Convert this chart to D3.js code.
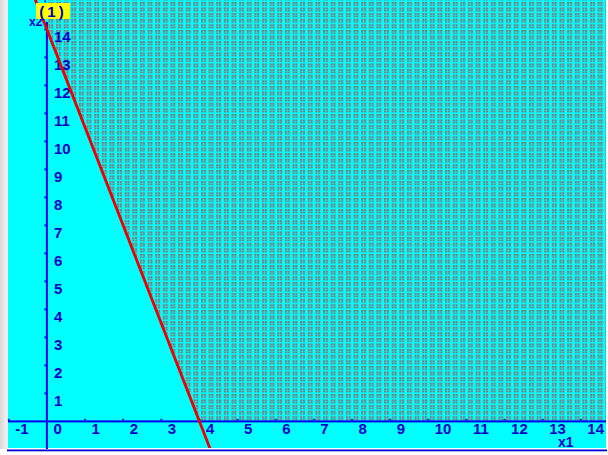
<!DOCTYPE html>
<html><head><meta charset="utf-8">
<script src="https://cdn.jsdelivr.net/npm/d3@7"></script>
<style>html,body{margin:0;padding:0;background:#fff;overflow:hidden}</style>
</head><body>
<svg id="c" width="608" height="455"></svg>
<script>
// ---- data ----
const xTicks = [-1,0,1,2,3,4,5,6,7,8,9,10,11,12,13,14];
const yTicks = [1,2,3,4,5,6,7,8,9,10,11,12,13,14,15];
const yLabels = [1,2,3,4,5,6,7,8,9,10,11,12,13,14];   // 15 is hidden behind the region label
const constraintCoef = [7, 2];   // 7*x1 + 2*x2 = 28
const constraintRhs = 28;
const xDomain = [-1.02, 14.66];
const yDomain = [-0.95, 15.05];
const regionLabel = "(1)";
const xName = "x1", yName = "x2";

const svg = d3.select("#c");
const L = 8, R = 606, T = 0, B = 448;
const x = d3.scaleLinear().domain(xDomain).range([L, R]);
const y = d3.scaleLinear().domain(yDomain).range([B, T]);

// frame
svg.append("rect").attr("x",0).attr("y",0).attr("width",608).attr("height",455).attr("fill","#fff");
const defs = svg.append("defs");
const g0 = defs.append("linearGradient").attr("id","lg");
g0.append("stop").attr("offset","0").attr("stop-color","#d8d8d8");
g0.append("stop").attr("offset","1").attr("stop-color","#f4f4f4");
svg.append("rect").attr("x",0).attr("y",0).attr("width",8).attr("height",449).attr("fill","url(#lg)");
svg.append("rect").attr("x",L).attr("y",T).attr("width",R-L).attr("height",B-T).attr("fill","#00ffff");
svg.append("rect").attr("x",7).attr("y",449.5).attr("width",600).attr("height",1.8).attr("fill","#0000dd");

// pattern
const cw = (x(1)-x(0))/5, ch = (y(0)-y(1))/5;
defs.append("clipPath").attr("id","plotclip").append("rect")
  .attr("x",L).attr("y",T).attr("width",R-L).attr("height",B-T);
const pat = defs.append("pattern").attr("id","dots").attr("patternUnits","userSpaceOnUse")
  .attr("x", x(0)+1.5).attr("y", y(0)-ch+0.5).attr("width", cw).attr("height", ch);
[[0,0],[2.8,0],[0,2.3],[2.8,2.3]].forEach(([a,b])=>{
  pat.append("rect").attr("x",a).attr("y",b).attr("width",2.2).attr("height",1.8).attr("fill","#7c7c7c");
});

const [a1,a2] = constraintCoef;
const x1At = v => (constraintRhs - a2*v)/a1;
const x2At = u => (constraintRhs - a1*u)/a2;
const ytop = yDomain[1], xr = xDomain[1];
const poly = [[x1At(0),0],[xr,0],[xr,ytop],[Math.max(0,x1At(ytop)),ytop]];
if (x1At(ytop) < 0) poly.push([0,ytop],[0,x2At(0)]);
svg.append("path").attr("clip-path","url(#plotclip)")
  .attr("d", d3.line().x(d=>x(d[0])).y(d=>y(d[1]))(poly)+"Z")
  .attr("fill","url(#dots)");

// axes
const blue = "#0000ee", tblue = "#0000c8";
svg.append("rect").attr("x",L).attr("y",y(0)-1).attr("width",R-L).attr("height",2).attr("fill",blue);
svg.append("rect").attr("x",x(0)-1).attr("y",22).attr("width",2).attr("height",B-22+1).attr("fill",blue);

svg.selectAll(".xt").data(xTicks.filter(d=>d!==0)).enter().append("rect")
  .attr("x",d=>x(d)-1).attr("y",y(0)-2.5).attr("width",2).attr("height",1.5).attr("fill",blue);
svg.selectAll(".yt").data(yTicks).enter().append("rect")
  .attr("x",x(0)-2.5).attr("y",d=>y(d)-1).attr("width",1.5).attr("height",2).attr("fill",blue);

const font = "'Liberation Sans', Arial, sans-serif";
svg.selectAll(".xl").data(xTicks).enter().append("text")
  .attr("x",d=>Math.max(9, x(d)+6.5)).attr("y",y(0)+12.5)
  .attr("font-family",font).attr("font-weight","bold").attr("font-size",15)
  .attr("fill",tblue).text(d=>d);
svg.selectAll(".yl").data(yLabels).enter().append("text")
  .attr("x",x(0)+7).attr("y",d=>y(d)+12.5)
  .attr("font-family",font).attr("font-weight","bold").attr("font-size",15)
  .attr("fill",tblue).text(d=>d);

svg.append("text").attr("x",558).attr("y",447).attr("font-family",font)
  .attr("font-weight","bold").attr("font-size",14).attr("fill",tblue).text(xName);
svg.append("text").attr("x",29).attr("y",26).attr("font-family",font)
  .attr("font-weight","bold").attr("font-size",12).attr("fill",tblue).text(yName);

// constraint line
svg.append("line").attr("clip-path","url(#plotclip)")
  .attr("x1",x(x1At(ytop+1))).attr("y1",y(ytop+1))
  .attr("x2",x(x1At(yDomain[0]-1))).attr("y2",y(yDomain[0]-1))
  .attr("stroke","#ee0000").attr("stroke-width",2.8);

// label box
svg.append("rect").attr("x",36).attr("y",3).attr("width",34).attr("height",16).attr("fill","#ffff00");
svg.append("text").attr("x",53).attr("y",16.5).attr("text-anchor","middle")
  .attr("font-family",font).attr("font-weight","bold").attr("font-size",15)
  .attr("letter-spacing",3).attr("fill",tblue).text(regionLabel);
</script>
</body></html>
